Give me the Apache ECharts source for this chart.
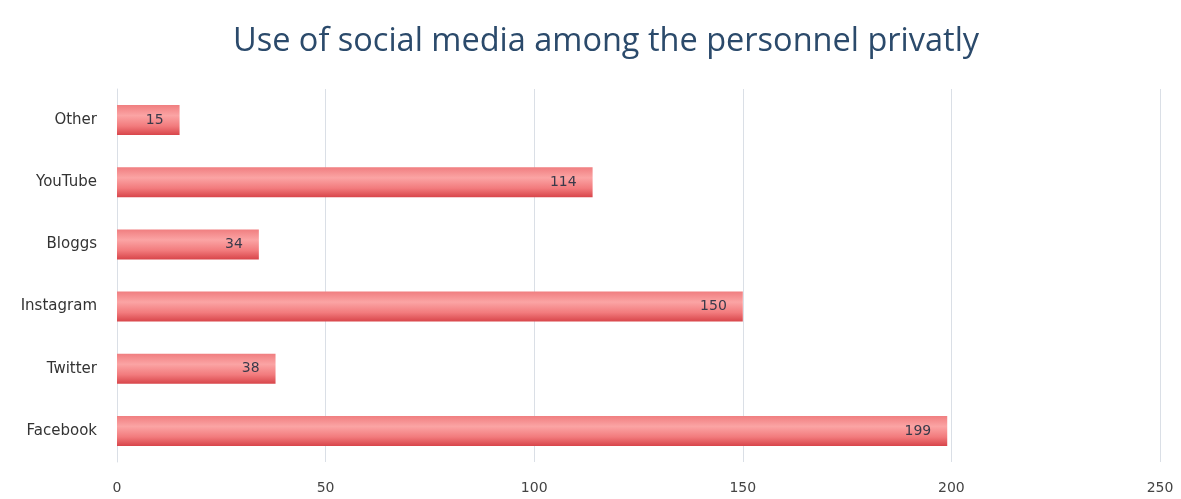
<!DOCTYPE html>
<html>
<head>
<meta charset="utf-8">
<script src="https://cdn.jsdelivr.net/npm/echarts@6/dist/echarts.min.js"></script>
<style>
  html, body { margin: 0; padding: 0; background: #fff; }
  #chart { width: 1181px; height: 499px; }
</style>
</head>
<body>
<div id="chart"></div>
<script>
const categories = ['Facebook', 'Twitter', 'Instagram', 'Bloggs', 'YouTube', 'Other'];
const values = [199, 38, 150, 34, 114, 15];
const xTicks = [0, 50, 100, 150, 200, 250];

const chart = echarts.init(document.getElementById('chart'));

chart.setOption({
  backgroundColor: '#ffffff',
  animation: false,
  title: {
    text: 'Use of social media among the personnel privatly',
    left: 228,
    top: 20,
    textStyle: { fontFamily: 'Open Sans', fontSize: 32.5, fontWeight: 'normal', color: '#2b4a6b' }
  },
  grid: { left: 117, right: 21, top: 89, bottom: 37, containLabel: false },
  xAxis: {
    type: 'value',
    min: xTicks[0],
    max: xTicks[xTicks.length - 1],
    interval: 50,
    axisLine: { show: false },
    axisTick: { show: false },
    splitLine: { show: true, lineStyle: { color: '#dadfe6', width: 1 } },
    axisLabel: { fontFamily: 'DejaVu Sans', fontSize: 14, color: '#444', margin: 19 }
  },
  yAxis: {
    type: 'category',
    data: categories,
    axisLine: { show: true, lineStyle: { color: '#dadfe6' } },
    axisTick: { show: false },
    axisLabel: { fontFamily: 'DejaVu Sans', fontSize: 15, color: '#333', margin: 20 }
  },
  series: [{
    type: 'bar',
    data: values,
    barWidth: 30,
    itemStyle: {
      color: new echarts.graphic.LinearGradient(0, 0, 0, 1, [
        { offset: 0, color: '#f07e80' },
        { offset: 0.35, color: '#fba4a4' },
        { offset: 0.7, color: '#f27b7d' },
        { offset: 1, color: '#d8454a' }
      ])
    },
    label: {
      show: true,
      position: 'insideRight',
      distance: 16,
      fontFamily: 'DejaVu Sans',
      fontSize: 14,
      color: '#3a3a4a'
    }
  }]
});
</script>
</body>
</html>
